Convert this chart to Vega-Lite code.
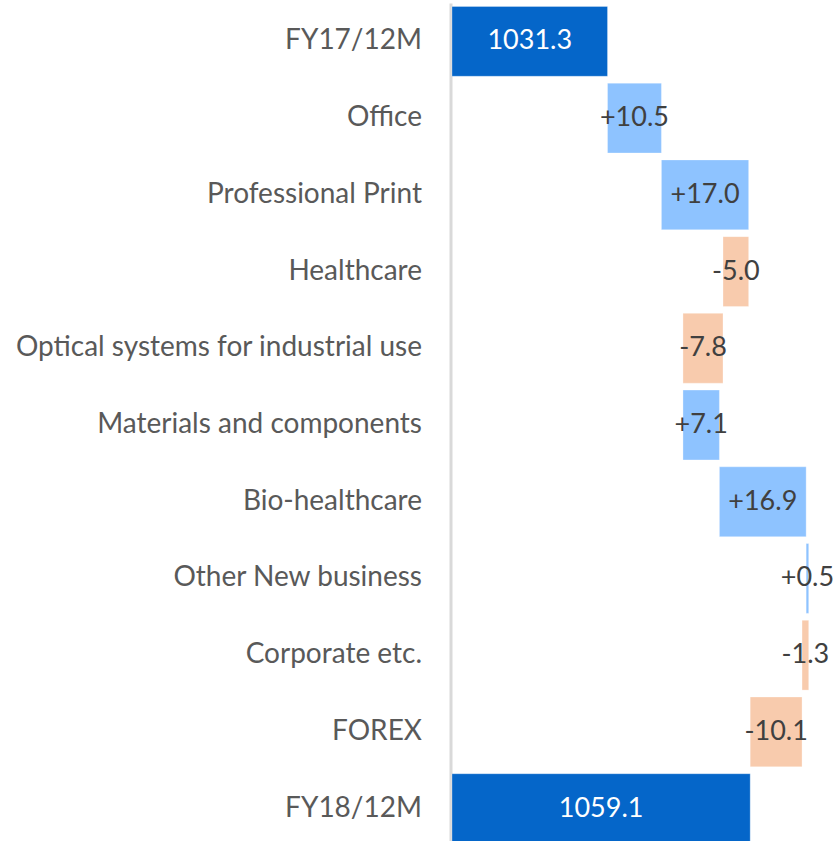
{
  "$schema": "https://vega.github.io/schema/vega-lite/v6.json",
  "width": 387,
  "height": 844,
  "autosize": {"type": "none"},
  "padding": {"left": 452, "top": 3, "right": 0, "bottom": 0},
  "background": "white",
  "config": {"view": {"stroke": null}, "font": "Lato"},
  "data": {
    "values": [
      {"label": "FY17/12M", "start": 1001, "end": 1031.3, "kind": "total", "text": "1031.3"},
      {"label": "Office", "start": 1031.3, "end": 1041.8, "kind": "up", "text": "+10.5"},
      {"label": "Professional Print", "start": 1041.8, "end": 1058.8, "kind": "up", "text": "+17.0"},
      {"label": "Healthcare", "start": 1058.8, "end": 1053.8, "kind": "down", "text": "-5.0"},
      {"label": "Optical systems for industrial use", "start": 1053.8, "end": 1046.0, "kind": "down", "text": "-7.8"},
      {"label": "Materials and components", "start": 1046.0, "end": 1053.1, "kind": "up", "text": "+7.1"},
      {"label": "Bio-healthcare", "start": 1053.1, "end": 1070.0, "kind": "up", "text": "+16.9"},
      {"label": "Other New business", "start": 1070.0, "end": 1070.5, "kind": "up", "text": "+0.5"},
      {"label": "Corporate etc.", "start": 1070.5, "end": 1069.2, "kind": "down", "text": "-1.3"},
      {"label": "FOREX", "start": 1069.2, "end": 1059.1, "kind": "down", "text": "-10.1"},
      {"label": "FY18/12M", "start": 1001, "end": 1059.1, "kind": "total", "text": "1059.1"}
    ]
  },
  "encoding": {
    "y": {
      "field": "label",
      "type": "nominal",
      "sort": null,
      "scale": {"paddingInner": 0.09, "paddingOuter": 0.045},
      "axis": {
        "title": null,
        "ticks": false,
        "labelPadding": 29,
        "labelFontSize": 28,
        "labelColor": "#595959",
        "labelFont": "Lato",
        "domainColor": "#d9d9d9",
        "domainWidth": 3,
        "offset": 1.5,
        "labelLimit": 0
      }
    }
  },
  "layer": [
    {
      "mark": {"type": "bar", "stroke": "white", "strokeWidth": 0.5, "strokeOpacity": 0.6},
      "encoding": {
        "x": {
          "field": "start",
          "type": "quantitative",
          "scale": {"domain": [1001, 1076.4], "zero": false, "nice": false},
          "axis": null
        },
        "x2": {"field": "end"},
        "color": {
          "field": "kind",
          "type": "nominal",
          "scale": {"domain": ["total", "up", "down"], "range": ["#0566C9", "#8EC3FF", "#F8CBAD"]},
          "legend": null
        }
      }
    },
    {
      "transform": [{"calculate": "(datum.start + datum.end) / 2", "as": "mid"}],
      "mark": {"type": "text", "fontSize": 27, "font": "Lato", "baseline": "middle", "align": "center"},
      "encoding": {
        "x": {"field": "mid", "type": "quantitative"},
        "text": {"field": "text"},
        "color": {
          "condition": {"test": "datum.kind === 'total'", "value": "white"},
          "value": "#404040"
        }
      }
    }
  ]
}
